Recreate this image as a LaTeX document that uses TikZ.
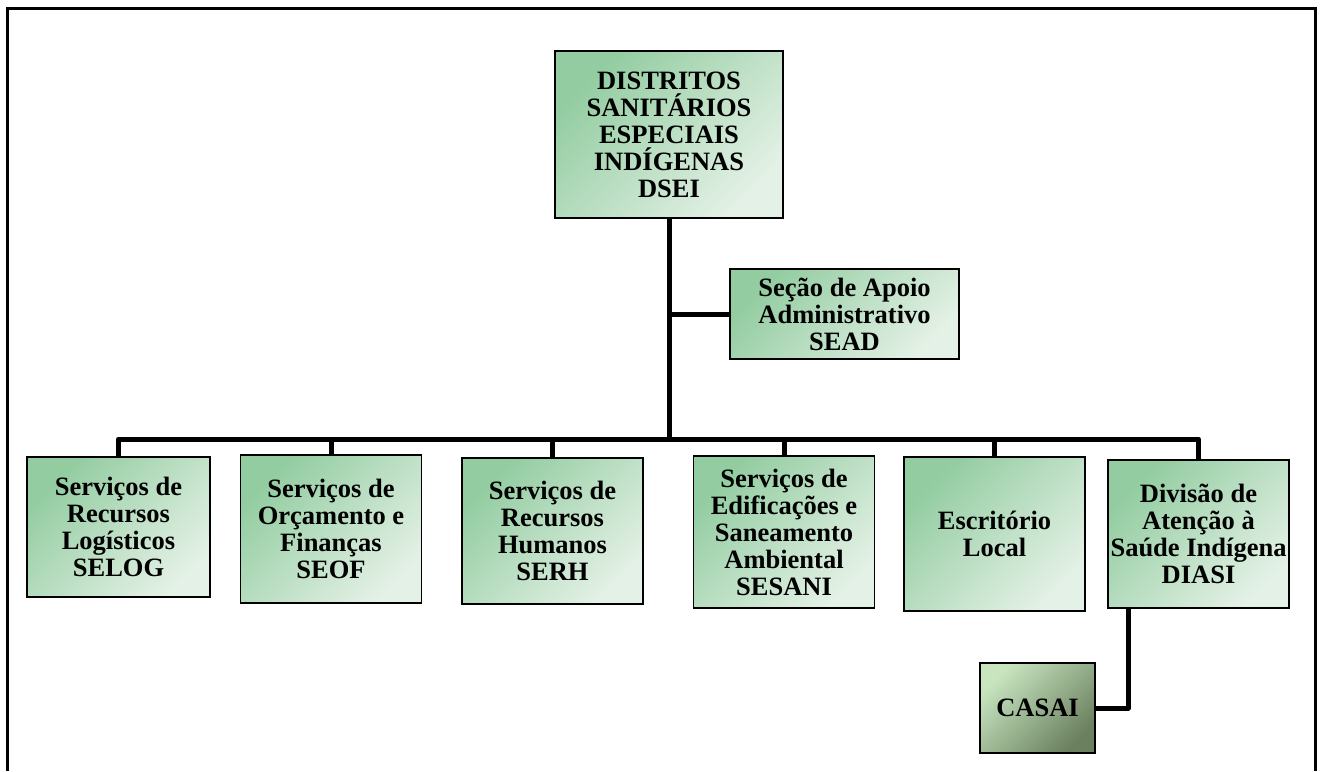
\documentclass[tikz,border=0pt]{standalone}
\usepackage{fontspec}
\setmainfont{Liberation Serif}
\definecolor{boxdark}{RGB}{146,204,160}
\definecolor{boxlight}{RGB}{228,241,230}
\definecolor{casaitop}{RGB}{200,229,192}
\definecolor{casaibot}{RGB}{106,128,94}
\tikzstyle{unit} = [draw=black,line width=1.6pt,top color=boxdark,bottom color=boxlight,shading angle=45,align=center,inner sep=1pt,font=\bfseries\fontsize{26.5}{27}\selectfont]
\tikzstyle{link} = [line width=5pt,line join=round]

\begin{document}
\begin{tikzpicture}[x=1pt,y=-1pt]
	\def \bus {439}
	\def \w {181pt}
	\useasboundingbox (0,0) rectangle (1321,771);
	\draw [line width=3pt] (7,771) -- (7,8) -- (1315,8) -- (1315,771);

	\node (dsei) at (669,134.5) [unit,minimum width=228pt,minimum height=167pt] {DISTRITOS\\SANITÁRIOS\\ESPECIAIS\\INDÍGENAS\\DSEI};
	\node (sead) at (844.5,314) [unit,minimum width=229pt,minimum height=90pt] {Seção de Apoio\\Administrativo\\SEAD};

	\node (selog) at (118.5,527) [unit,minimum width=183pt,minimum height=140pt] {Serviços de\\Recursos\\Logísticos\\SELOG};
	\node (seof) at (331,529) [unit,minimum width=\w,minimum height=148pt] {Serviços de\\Orçamento e\\Finanças\\SEOF};
	\node (serh) at (552.5,531) [unit,minimum width=\w,minimum height=146pt] {Serviços de\\Recursos\\Humanos\\SERH};
	\node (sesani) at (784,532) [unit,minimum width=\w,minimum height=152pt] {Serviços de\\Edificações e\\Saneamento\\Ambiental\\SESANI};
	\node (escr) at (994.5,534) [unit,minimum width=\w,minimum height=154pt] {Escritório\\Local};
	\node (diasi) at (1198.5,534) [unit,minimum width=\w,minimum height=148pt] {Divisão de\\Atenção à\\Saúde Indígena\\DIASI};
	\node (casai) at (1037.5,708) [unit,top color=casaitop,bottom color=casaibot,shading angle=45,minimum width=115pt,minimum height=90pt] {CASAI};

	\coordinate (hub) at (669,\bus);
	\draw [link] (dsei.south) -- (hub);
	\draw [link] (dsei.south |- sead.west) -- (sead.west);
	\draw [link] (selog.north) |- (hub) -| (diasi.north);
	\draw [link] (seof.north) -- (seof.north |- hub);
	\draw [link] (serh.north) -- (serh.north |- hub);
	\draw [link] (sesani.north) -- (sesani.north |- hub);
	\draw [link] (escr.north) -- (escr.north |- hub);
	\draw [link] ([xshift=-70.5pt]diasi.south) |- (casai.east);
\end{tikzpicture}
\end{document}
